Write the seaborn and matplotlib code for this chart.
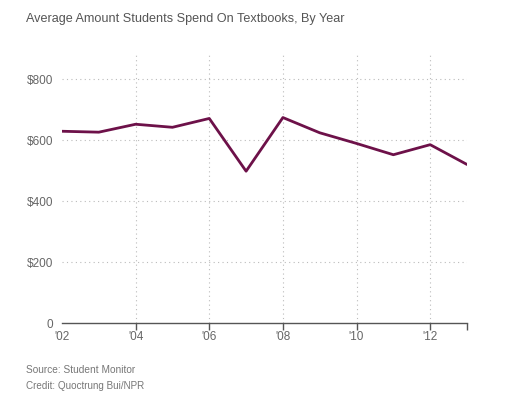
import matplotlib
matplotlib.use("Agg")
import matplotlib.pyplot as plt
import seaborn as sns
import pandas as pd

years = [2002, 2003, 2004, 2005, 2006, 2007, 2008, 2009, 2010, 2011, 2012, 2013]
spend = [629, 626, 652, 642, 671, 498, 674, 624, 589, 552, 585, 520]
y_ticks = [0, 200, 400, 600, 800]
y_labels = ["0", "$200", "$400", "$600", "$800"]
x_ticks = [2002, 2004, 2006, 2008, 2010, 2012, 2013]
x_labels = ["'02", "'04", "'06", "'08", "'10", "'12", ""]

sns.set_theme(style="white")
plt.rcParams['font.family'] = ['Liberation Sans', 'DejaVu Sans']

df = pd.DataFrame({"year": years, "spend": spend})

fig = plt.figure(figsize=(5.27, 3.95), dpi=100)
ax = fig.add_axes([62/527, 1-323/395, (467-62)/527, (323-52)/395])

sns.lineplot(data=df, x="year", y="spend", ax=ax, color="#6d1149", linewidth=2.0)

ax.set_xlim(2002, 2013)
ax.set_ylim(0, 889)
ax.set_xticks(x_ticks)
ax.set_xticklabels(x_labels)
ax.set_yticks(y_ticks)
ax.set_yticklabels(y_labels)
ax.set_xlabel("")
ax.set_ylabel("")

for s in ["top", "right", "left"]:
    ax.spines[s].set_visible(False)
ax.spines["bottom"].set_color("#555555")
ax.spines["bottom"].set_linewidth(1.0)

ax.grid(True, axis="both", linestyle=(0, (1, 3)), color="#bbbbbb", linewidth=0.8)
ax.set_axisbelow(True)
xg = ax.xaxis.get_gridlines()
xg[0].set_visible(False)
xg[-1].set_visible(False)
ax.yaxis.get_gridlines()[0].set_visible(False)

ax.tick_params(axis="x", direction="out", length=5, width=1.0, color="#555555",
               labelsize=8.5, labelcolor="#666666", pad=1, bottom=True)
ax.tick_params(axis="y", length=0, labelsize=8.5, labelcolor="#666666", pad=6.5)
ax.xaxis.get_major_ticks()[0].tick1line.set_visible(False)

fig.text(26/527, 1-19/395, "Average Amount Students Spend On Textbooks, By Year",
         fontsize=9.1, color="#555555", ha="left", va="center")
fig.text(26/527, 1-370/395, "Source: Student Monitor", fontsize=7.3, color="#777777",
         ha="left", va="center")
fig.text(26/527, 1-386/395, "Credit: Quoctrung Bui/NPR", fontsize=7.1, color="#777777",
         ha="left", va="center")

fig.savefig("out.png", dpi=100)
